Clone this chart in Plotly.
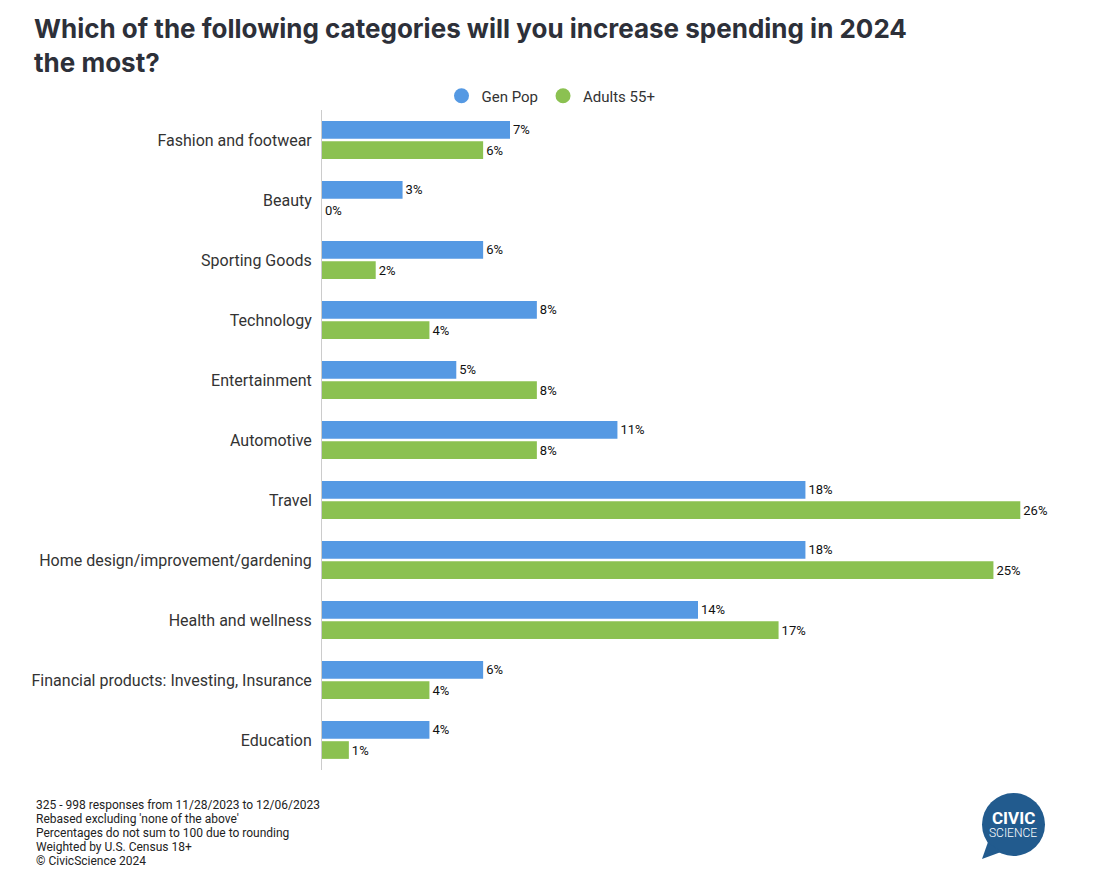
import plotly.graph_objects as go

categories = [
    "Fashion and footwear", "Beauty", "Sporting Goods", "Technology",
    "Entertainment", "Automotive", "Travel",
    "Home design/improvement/gardening", "Health and wellness",
    "Financial products: Investing, Insurance", "Education",
]
gen_pop = [7, 3, 6, 8, 5, 11, 18, 18, 14, 6, 4]
adults_55 = [6, 0, 2, 4, 8, 8, 26, 25, 17, 4, 1]
series_names = ["Gen Pop", "Adults 55+"]
colors = ["#5599e3", "#8bc151"]

title_text = "Which of the following categories will you increase spending in 2024<br>the most?"
footnote_lines = [
    "325 - 998 responses from 11/28/2023 to 12/06/2023",
    "Rebased excluding 'none of the above'",
    "Percentages do not sum to 100 due to rounding",
    "Weighted by U.S. Census 18+",
    "\u00a9 CivicScience 2024",
]

# page body adds an 8px margin; size figure to fit the 1113x880 window
O = 8
W, H = 1113 - O, 880 - O
L, T = 322 - O, 110 - O
R = W - (1074 - O)
B = H - (770 - O)
PW, PH = W - L - R, H - T - B


def px_x(px):  # reference pixel -> paper x
    return (px - O - L) / PW


def px_y(py):  # reference pixel -> paper y
    return (H - B - (py - O)) / PH


fig = go.Figure()
for name, vals, col in zip(series_names, [gen_pop, adults_55], colors):
    fig.add_trace(go.Bar(
        y=categories, x=vals, orientation="h", name=name,
        marker=dict(color=col, line=dict(width=0)),
        text=[f"{v}%" for v in vals], textposition="outside",
        textfont=dict(size=13, color="#111111", family="Roboto"),
        cliponaxis=False, showlegend=False,
    ))
    fig.add_trace(go.Scatter(
        x=[None], y=[None], mode="markers", name=name,
        marker=dict(color=col, size=15, symbol="circle"),
        showlegend=True,
    ))

fig.update_layout(
    width=W, height=H,
    margin=dict(l=L, r=R, t=T, b=B, autoexpand=False),
    paper_bgcolor="white", plot_bgcolor="white",
    font=dict(family="Roboto", color="#333333"),
    barmode="group", bargap=0.33, bargroupgap=0.12,
    title=dict(
        text=title_text, xref="container", yref="container",
        x=(34 - O) / W, xanchor="left", y=1 - 30 / H, yanchor="top",
        font=dict(size=26, color="#2d3039", family="Inter", weight="bold"),
    ),
    legend=dict(
        orientation="h", xref="container", yref="container",
        x=(551 - O) / W, xanchor="center", y=1 - (96 - O) / H, yanchor="middle",
        font=dict(size=15, color="#333333"), itemsizing="trace",
        traceorder="normal",
    ),
    xaxis=dict(range=[0, 28], visible=False, fixedrange=True),
    yaxis=dict(
        autorange="reversed", showline=True, linecolor="#cccccc", linewidth=1,
        ticks="", showgrid=False, ticklabelstandoff=6,
        tickfont=dict(size=16, color="#333333"),
    ),
)

for i, line in enumerate(footnote_lines):
    fig.add_annotation(
        text=line, xref="paper", yref="paper",
        x=px_x(34), y=px_y(805 + 14 * i), xanchor="left", yanchor="middle",
        align="left", showarrow=False, font=dict(size=12, color="#222222"),
    )

# logo
logo_blue = "#225b8e"
fig.add_shape(type="circle", xref="paper", yref="paper", layer="below",
              x0=px_x(982), x1=px_x(1045), y0=px_y(856), y1=px_y(793),
              fillcolor=logo_blue, line=dict(width=0))
fig.add_shape(type="path", xref="paper", yref="paper", layer="below",
              path=(f"M {px_x(988)} {px_y(842)} L {px_x(982)} {px_y(859)} "
                    f"L {px_x(1001)} {px_y(852)} Z"),
              fillcolor=logo_blue, line=dict(width=0))
fig.add_annotation(text="<b>CIVIC</b>", xref="paper", yref="paper",
                   x=px_x(1013), y=px_y(818), xanchor="center", yanchor="middle",
                   showarrow=False,
                   font=dict(size=17, color="white", family="Roboto"))
fig.add_annotation(text="SCIENCE", xref="paper", yref="paper",
                   x=px_x(1013), y=px_y(833), xanchor="center", yanchor="middle",
                   showarrow=False,
                   font=dict(size=12, color="white", family="Roboto", weight=300))

fig.write_html("out.html")
